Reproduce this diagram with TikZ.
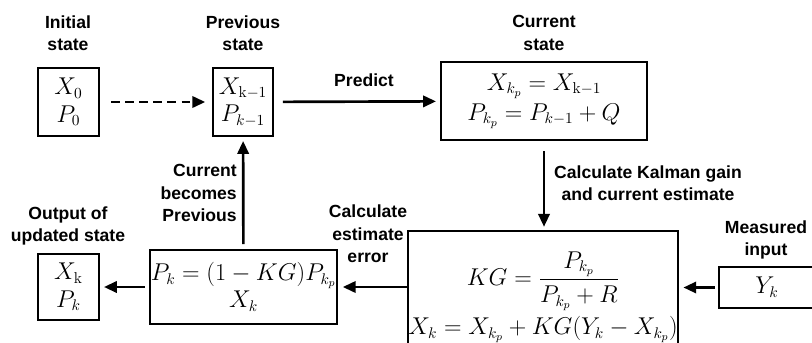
\documentclass[tikz,border=0pt]{standalone}
\usepackage{amsmath}
\usepackage{fontspec}
\setsansfont{Liberation Sans}
\usetikzlibrary{arrows.meta}
\tikzset{
  lbl/.style={font=\sffamily\bfseries\fontsize{12.5}{16}\selectfont,align=center,inner sep=0pt},
  sbx/.style={draw,line width=1.4pt,minimum width=#1,inner sep=0pt,align=center,font=\fontsize{16}{19.5}\selectfont},
  flow/.style={-{Triangle[length=3.2mm,width=2.8mm]},line width=1.9pt},
}

\begin{document}
\begin{tikzpicture}[x=0.025cm,y=-0.025cm]
\useasboundingbox (0,0) rectangle (812,343);
% state boxes
\node[sbx=1.525cm,minimum height=1.7cm] (init) at (68.5,102) {$X_0$\\$P_0$};
\node[sbx=1.5cm,minimum height=1.7cm] (prev) at (243,102) {$X_{\mathrm{k}-1}$\\$P_{k-1}$};
\node[sbx=5.15cm,minimum height=1.95cm] (curr) at (544,101) {$X_{k_p} = X_{\mathrm{k}-1}$\\[2pt]$P_{k_p} = P_{k-1} + Q$};
\node[sbx=6.25cm,minimum height=3.3cm] (upd) at (543,297) {$KG = \dfrac{P_{k_p}}{P_{k_p}+R}$\\[3pt]$X_k = X_{k_p} + KG(Y_k - X_{k_p})$};
\node[sbx=2.4cm,minimum height=1.025cm] (meas) at (767,287.5) {$Y_k$};
\node[sbx=4.675cm,minimum height=1.85cm] (err) at (243.5,287) {$P_k = (1-KG)P_{k_p}$\\$X_k$};
\node[sbx=1.525cm,minimum height=1.65cm] (out) at (68.5,287) {$X_{\mathrm{k}}$\\$P_k$};
% labels
\node[lbl] (linit) at (68,33) {Initial\\state};
\node[lbl] (lprev) at (243,33) {Previous\\state};
\node[lbl] (lcurr) at (544,33) {Current\\state};
\node[lbl] (lpred) at (364,80) {Predict};
\node[lbl] (lgain) at (648,183) {Calculate Kalman gain\\and current estimate};
\node[lbl,align=right,anchor=east] (lback) at (237,193) {Current\\becomes\\Previous};
\node[lbl] (lout) at (68,226) {Output of\\updated state};
\node[lbl] (lerr) at (368,234) {Calculate\\estimate\\error};
\node[lbl] (lmeas) at (766,240) {Measured\\input};
% arrows
\draw[flow,dash pattern=on 6pt off 4pt,shorten <=0.28cm,shorten >=0.17cm] (init) -- (prev);
\draw[flow,shorten <=0.22cm,shorten >=0.1cm] (prev) -- (curr);
\draw[flow,shorten <=0.25cm,shorten >=0.08cm] (curr) -- (upd.north -| curr.south);
\draw[flow,shorten <=0.08cm,shorten >=0.12cm] (meas.west) -- (meas.west -| upd.east);
\draw[flow,shorten >=0.12cm] (upd.west |- err.east) -- (err.east);
\draw[flow,shorten <=0.1cm,shorten >=0.1cm] (err) -- (out);
\draw[flow,shorten <=0.12cm,shorten >=0.1cm] (err) -- (prev);
\end{tikzpicture}
\end{document}
